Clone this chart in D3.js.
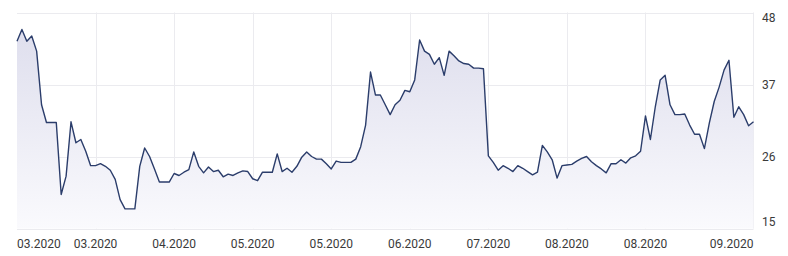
<!DOCTYPE html>
<meta charset="utf-8">
<style>
body { margin: 0; background: #fff; }
text { font-family: Roboto, "Open Sans", sans-serif; font-size: 12px; fill: #3a3a3a; }
.grid line { stroke: #ebebef; stroke-width: 1; }
</style>
<svg width="788" height="256"></svg>
<script src="https://cdn.jsdelivr.net/npm/d3@7"></script>
<script>

// daily closing values
var values = [
  43.6, 45.4, 43.6, 44.4, 42.1, 33.9, 31.2, 31.2, 31.2, 20.2,
  23.0, 31.3, 28.1, 28.6, 26.8, 24.6, 24.6, 24.9, 24.5, 23.9,
  22.5, 19.4, 18.0, 18.0, 18.0, 24.5, 27.3, 26.0, 24.1, 22.1,
  22.1, 22.1, 23.4, 23.1, 23.6, 24.0, 26.7, 24.5, 23.5, 24.4,
  23.7, 23.9, 22.9, 23.3, 23.1, 23.5, 23.8, 23.7, 22.6, 22.3,
  23.6, 23.6, 23.6, 26.4, 23.7, 24.2, 23.6, 24.5, 25.9, 26.7,
  26.0, 25.6, 25.6, 24.9, 24.1, 25.3, 25.1, 25.1, 25.1, 25.6,
  27.5, 30.8, 38.9, 35.4, 35.4, 33.9, 32.4, 33.9, 34.6, 36.1,
  35.9, 37.7, 43.8, 42.1, 41.6, 40.1, 41.1, 38.4, 42.1, 41.4,
  40.6, 40.2, 40.1, 39.5, 39.5, 39.4, 26.1, 25.1, 23.9, 24.6,
  24.2, 23.7, 24.6, 24.2, 23.7, 23.2, 23.6, 27.7, 26.7, 25.5,
  22.7, 24.6, 24.7, 24.8, 25.3, 25.7, 26.0, 25.2, 24.6, 24.1,
  23.5, 24.9, 24.9, 25.5, 25.0, 25.8, 26.1, 26.8, 32.2, 28.6,
  33.6, 37.7, 38.4, 33.9, 32.4, 32.4, 32.5, 30.8, 29.4, 29.4,
  27.2, 31.1, 34.4, 36.6, 39.2, 40.7, 32.0, 33.6, 32.4, 30.7,
  31.3
];

var tickIndex = [0, 16, 32, 48, 64, 80, 96, 112, 128, 150];
var tickLabels = ["03.2020", "03.2020", "04.2020", "05.2020", "05.2020",
                  "06.2020", "07.2020", "08.2020", "08.2020", "09.2020"];
var yTicks = [15, 26, 37, 48];

var svg = d3.select("svg");

var x = d3.scaleLinear()
    .domain([0, values.length - 1])
    .range([17, 753.5]);

var y = d3.scaleLinear()
    .domain([15, 48])
    .range([228.5, 12.5]);

var defs = svg.append("defs");
var grad = defs.append("linearGradient")
    .attr("id", "fillGrad")
    .attr("gradientUnits", "userSpaceOnUse")
    .attr("x1", 0).attr("y1", y(48))
    .attr("x2", 0).attr("y2", y(15));
grad.append("stop").attr("offset", 0).attr("stop-color", "#dcdcec");
grad.append("stop").attr("offset", 1).attr("stop-color", "#fafafd");

// grid
var grid = svg.append("g").attr("class", "grid");

grid.selectAll(".h")
    .data(yTicks)
  .enter().append("line")
    .attr("x1", x.range()[0])
    .attr("x2", x.range()[1])
    .attr("y1", function(d) { return Math.round(y(d)) + 0.5; })
    .attr("y2", function(d) { return Math.round(y(d)) + 0.5; });

grid.selectAll(".v")
    .data(tickIndex.slice(1, -1))
  .enter().append("line")
    .attr("x1", function(d) { return Math.round(x(d)) + 0.5; })
    .attr("x2", function(d) { return Math.round(x(d)) + 0.5; })
    .attr("y1", y(48))
    .attr("y2", y(15));

grid.append("line")
    .attr("x1", x.range()[1]).attr("x2", x.range()[1])
    .attr("y1", y(48)).attr("y2", y(15));

var area = d3.area()
    .x(function(d, i) { return x(i); })
    .y0(y(15))
    .y1(function(d) { return y(d); });

var line = d3.line()
    .x(function(d, i) { return x(i); })
    .y(function(d) { return y(d); });

svg.append("path")
    .datum(values)
    .attr("fill", "url(#fillGrad)")
    .attr("d", area);

svg.append("path")
    .datum(values)
    .attr("fill", "none")
    .attr("stroke", "#2b3d6b")
    .attr("stroke-width", 1.4)
    .attr("stroke-linejoin", "round")
    .attr("d", line);

// x labels
svg.append("g").selectAll("text")
    .data(tickIndex)
  .enter().append("text")
    .attr("x", function(d) { return x(d); })
    .attr("y", 248)
    .attr("text-anchor", function(d, i) {
      return i === 0 ? "start" : (i === tickIndex.length - 1 ? "end" : "middle");
    })
    .text(function(d, i) { return tickLabels[i]; });

// y labels on the right
svg.append("g").selectAll("text")
    .data(yTicks)
  .enter().append("text")
    .attr("x", 762)
    .attr("y", function(d) {
      if (d === 48) return y(d) + 9;
      if (d === 15) return y(d) - 3;
      return y(d) + 4;
    })
    .text(function(d) { return d; });

</script>
